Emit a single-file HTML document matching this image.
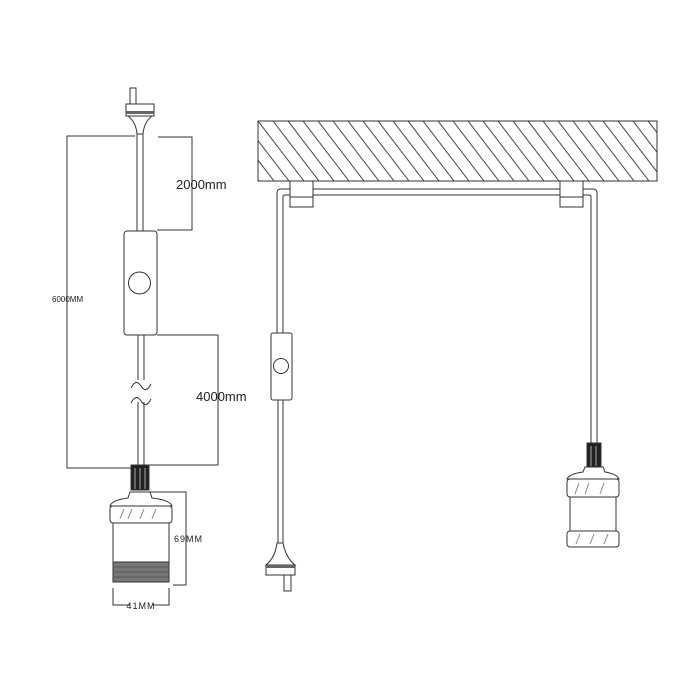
<!DOCTYPE html>
<html><head><style>
html,body{margin:0;padding:0;background:#fff;}
svg{display:block;}
text{font-family:"Liberation Sans",sans-serif;fill:#222;}
</style></head><body>
<svg width="700" height="700" viewBox="0 0 700 700" xmlns="http://www.w3.org/2000/svg">
<defs>
<clipPath id="ceil"><rect x="258" y="121" width="399" height="60"/></clipPath>
</defs>
<g fill="none" stroke="#333" stroke-width="1">
<!-- LEFT: plug -->
<rect x="130" y="88" width="6" height="16" fill="#fff"/>
<rect x="126" y="104" width="28" height="12" fill="#fff"/>
<rect x="126" y="111" width="28" height="3" fill="#666" stroke="none"/>
<path d="M128 116 Q136 122 137 134 M152 116 Q144 122 143 134"/>
<line x1="137" y1="134" x2="143" y2="134"/>
<!-- cable upper -->
<line x1="137" y1="134" x2="137" y2="231"/><line x1="143" y1="134" x2="143" y2="231"/>
<!-- switch -->
<rect x="124" y="231" width="33" height="104" rx="3" fill="#fff"/>
<circle cx="139.5" cy="283" r="11" fill="#fff"/>
<!-- cable lower -->
<line x1="138" y1="335" x2="138" y2="465"/><line x1="144" y1="335" x2="144" y2="465"/>
<rect x="130" y="380" width="22" height="22" fill="#fff" stroke="none"/>
<path d="M131 388 Q136 378 141 386 Q146 394 151 384"/>
<path d="M131 403 Q136 393 141 401 Q146 409 151 399"/>
<!-- nut -->
<rect x="131" y="465" width="18" height="25" fill="#222"/>
<line x1="135" y1="468" x2="135" y2="489" stroke="#aaa"/><line x1="140" y1="468" x2="140" y2="489" stroke="#aaa"/><line x1="145" y1="468" x2="145" y2="489" stroke="#aaa"/>
<!-- lamp left -->
<path d="M130 492 L150 492 L152 498 Q170 500 172 506 L110 506 Q112 500 128 498 Z" fill="#fff"/>
<rect x="110" y="506" width="62" height="17" rx="3" fill="#fff"/>
<path d="M120 519 L124 509 M128 519 L132 509 M140 519 L144 509 M152 519 L156 509" stroke="#888"/>
<rect x="113" y="523" width="56" height="40" fill="#fff"/>
<rect x="113" y="562" width="56" height="20" fill="#777"/>
<line x1="113" y1="567" x2="169" y2="567" stroke="#555"/><line x1="113" y1="572" x2="169" y2="572" stroke="#555"/><line x1="113" y1="577" x2="169" y2="577" stroke="#555"/>
<!-- dimensions left -->
<polyline points="135,136 67,136 67,468 131,468" />
<polyline points="158,137 192,137 192,230 157,230"/>
<polyline points="157,335 218,335 218,465 149,465"/>
<polyline points="150,492 186,492 186,585 173,585"/>
<polyline points="113,588 113,605 130,605"/><polyline points="152,605 169,605 169,588"/>

<!-- RIGHT: ceiling -->
<g clip-path="url(#ceil)" stroke="#444">
<path d="M243 121 l46 60 M258 121 l46 60 M273 121 l46 60 M288 121 l46 60 M303 121 l46 60 M318 121 l46 60 M333 121 l46 60 M348 121 l46 60 M363 121 l46 60 M378 121 l46 60 M393 121 l46 60 M408 121 l46 60 M423 121 l46 60 M438 121 l46 60 M453 121 l46 60 M468 121 l46 60 M483 121 l46 60 M498 121 l46 60 M513 121 l46 60 M528 121 l46 60 M543 121 l46 60 M558 121 l46 60 M573 121 l46 60 M588 121 l46 60 M603 121 l46 60 M618 121 l46 60 M633 121 l46 60 M648 121 l46 60 M213 121 l46 60 M228 121 l46 60"/>
</g>
<rect x="258" y="121" width="399" height="60"/>
<!-- cable loop -->
<path d="M277 333 L277 193 Q277 189 281 189 L593 189 Q597 189 597 193 L597 443"/>
<path d="M283 333 L283 197 Q283 195 285 195 L589 195 Q591 195 591 197 L591 443"/>
<!-- clips -->
<rect x="290" y="181" width="23" height="26" fill="#fff"/><line x1="290" y1="197" x2="313" y2="197"/>
<rect x="560" y="181" width="23" height="26" fill="#fff"/><line x1="560" y1="197" x2="583" y2="197"/>
<!-- right switch -->
<rect x="271" y="333" width="21" height="67" rx="2" fill="#fff"/>
<circle cx="281" cy="366" r="7.5" fill="#fff"/>
<line x1="278" y1="400" x2="278" y2="543"/><line x1="283" y1="400" x2="283" y2="543"/>
<path d="M277 543 L283 543 Q286 558 295 565 L266 565 Q275 558 277 543 Z" fill="#fff"/>
<rect x="266" y="565" width="29" height="10" fill="#fff"/>
<rect x="266" y="565" width="29" height="3" fill="#666" stroke="none"/>
<rect x="284" y="575" width="7" height="16" fill="#fff"/>
<!-- right lamp -->
<rect x="587" y="443" width="14" height="24" fill="#222"/>
<line x1="591" y1="446" x2="591" y2="466" stroke="#aaa"/><line x1="596" y1="446" x2="596" y2="466" stroke="#aaa"/>
<path d="M585 467 L603 467 L605 472 Q617 474 619 479 L567 479 Q569 474 583 472 Z" fill="#fff"/>
<rect x="567" y="479" width="52" height="18" rx="3" fill="#fff"/>
<path d="M575 494 L579 483 M585 494 L589 483 M600 494 L604 483" stroke="#888"/>
<rect x="570" y="497" width="46" height="34" fill="#fff"/>
<rect x="567" y="531" width="52" height="16" rx="3" fill="#fff"/>
<path d="M576 544 L580 534 M590 544 L594 534 M604 544 L608 534" stroke="#888"/>
</g>
<text x="176" y="189" font-size="13">2000mm</text>
<text x="196" y="401" font-size="13">4000mm</text>
<text x="52" y="302" font-size="8">6000MM</text>
<text x="174" y="542" font-size="9" letter-spacing="1">69MM</text>
<text x="141" y="609" font-size="9" letter-spacing="1" text-anchor="middle">41MM</text>
</svg>
</body></html>
